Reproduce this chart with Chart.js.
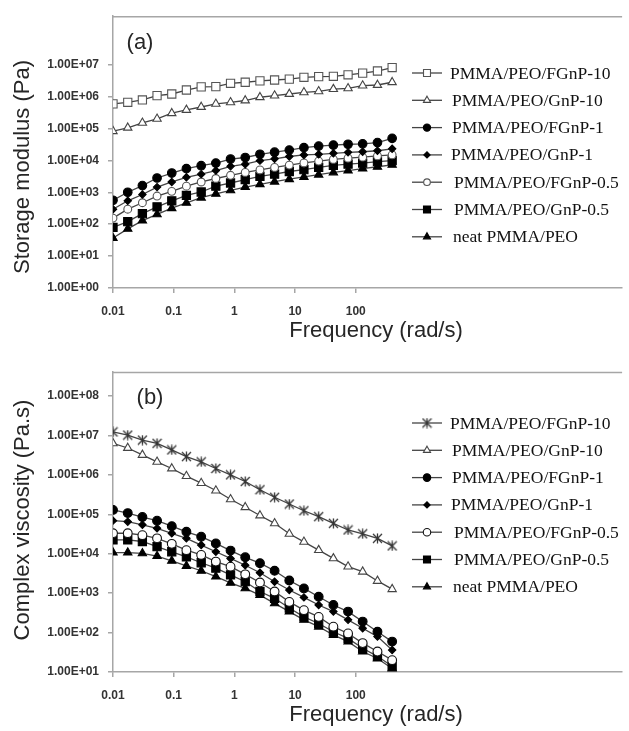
<!DOCTYPE html>
<html><head><meta charset="utf-8">
<script src="https://cdn.jsdelivr.net/npm/chart.js@4.4.1/dist/chart.umd.min.js"></script>
<style>
html,body{margin:0;padding:0;background:#fff;}
#wrap{width:629px;height:731px;position:relative;overflow:hidden;}
.box{position:absolute;left:0;width:629px;}
</style></head><body>
<div id="wrap">
<div class="box" style="top:0;height:350px"><canvas id="c1"></canvas></div>
<div class="box" style="top:350px;height:381px"><canvas id="c2"></canvas></div>
</div>
<script>
// ---------- data ----------
const freq = [0.01,0.0175,0.0305,0.0532,0.093,0.162,0.284,0.495,0.865,1.51,2.64,4.6,8.04,14,24.5,42.8,74.7,130,228,398];
const seriesNames = ['PMMA/PEO/FGnP-10','PMMA/PEO/GnP-10','PMMA/PEO/FGnP-1','PMMA/PEO/GnP-1','PMMA/PEO/FGnP-0.5','PMMA/PEO/GnP-0.5','neat PMMA/PEO'];
const xTickValues = [0.01,0.1,1,10,100];
const yTicksA = [1,10,100,1e3,1e4,1e5,1e6,1e7];
const yTicksB = [10,100,1e3,1e4,1e5,1e6,1e7,1e8];

// (a) Storage modulus (Pa)
const gFGnP10 = [5.9e5,6.6e5,7.8e5,1.07e6,1.2e6,1.6e6,2.0e6,2.05e6,2.6e6,2.8e6,3.1e6,3.3e6,3.5e6,4.0e6,4.2e6,4.3e6,4.8e6,5.4e6,6.3e6,8.1e6];
const gGnP10  = [8.2e4,1.05e5,1.5e5,2.0e5,3.0e5,3.8e5,4.7e5,5.9e5,6.6e5,7.5e5,9.5e5,1.07e6,1.2e6,1.35e6,1.45e6,1.7e6,1.8e6,2.2e6,2.3e6,2.8e6];
const gFGnP1  = [560,1000,1620,2800,4000,5500,6800,8200,1.1e4,1.23e4,1.55e4,1.8e4,2.1e4,2.5e4,2.8e4,3.0e4,3.2e4,3.3e4,3.6e4,4.9e4];
const gGnP1   = [295,540,850,1450,2100,2950,3700,4800,6500,7600,9800,1.12e4,1.32e4,1.48e4,1.55e4,1.66e4,1.78e4,1.86e4,2.0e4,2.3e4];
const gFGnP05 = [155,295,470,760,1070,1550,2100,2700,3400,4200,5000,6000,7100,8300,9500,1.07e4,1.17e4,1.26e4,1.38e4,1.48e4];
const gGnP05  = [79,120,214,347,537,794,1020,1550,1950,2500,3160,3720,4470,5130,6030,6920,7590,8130,9120,9770];
const gNeat   = [37,71,129,204,316,468,676,891,1150,1450,1780,2140,2570,3020,3550,4170,4790,5500,6310,7240];

// (b) Complex viscosity (Pa.s)
const etaFGnP10 = [1.23e7,1.02e7,7.6e6,6.3e6,4.3e6,2.9e6,2.14e6,1.45e6,1.0e6,6.8e5,4.2e5,2.7e5,1.82e5,1.23e5,8.7e4,5.9e4,4.0e4,3.2e4,2.45e4,1.58e4];
const etaGnP10  = [6.3e6,4.8e6,3.2e6,2.14e6,1.45e6,9.3e5,6.2e5,4.0e5,2.4e5,1.51e5,9.3e4,5.9e4,3.2e4,2.0e4,1.23e4,7600,4700,3500,2040,1260];
const etaFGnP1  = [1.29e5,1.07e5,8.5e4,6.9e4,5.0e4,3.6e4,2.7e4,1.82e4,1.2e4,8100,5750,3700,2090,1320,810,500,340,190,105,59];
const etaGnP1   = [6.9e4,6.5e4,5.4e4,4.4e4,3.3e4,2.45e4,1.66e4,1.12e4,7600,5100,3300,1950,1200,780,500,340,210,129,79,36];
const etaFGnP05 = [3.3e4,3.3e4,2.95e4,2.45e4,1.78e4,1.23e4,9300,6300,4700,3000,1860,1100,600,370,250,141,95,54,33,20];
const etaGnP05  = [2.24e4,2.24e4,2.04e4,1.51e4,1.12e4,8300,5900,4300,2900,1950,1100,740,420,250,170,105,71,40,25,14];
const etaNeat   = [1.07e4,1.07e4,1.02e4,8700,6600,4900,3700,2630,1820,1320,890,550,340,210,141,87,59,33,22,12.3];

// ---------- styles ----------
function makeStar(size){
  const c=document.createElement('canvas'); c.width=c.height=size;
  const g=c.getContext('2d'); g.strokeStyle='#333'; g.lineWidth=1.3;
  const m=size/2, r=size/2-1;
  g.beginPath();
  g.moveTo(m-r,m-r); g.lineTo(m+r,m+r);
  g.moveTo(m+r,m-r); g.lineTo(m-r,m+r);
  g.moveTo(m,m-r-0.5); g.lineTo(m,m+r+0.5);
  g.stroke();
  return c;
}
const starImg = makeStar(11);
const markersA = [
  {pointStyle:'rect', radius:5.8, fill:'#fff', stroke:'#555'},
  {pointStyle:'triangle', radius:4.8, fill:'#fff', stroke:'#444'},
  {pointStyle:'circle', radius:4.3, fill:'#000', stroke:'#000'},
  {pointStyle:'rectRot', radius:3.7, fill:'#000', stroke:'#000'},
  {pointStyle:'circle', radius:3.9, fill:'#fff', stroke:'#555'},
  {pointStyle:'rect', radius:5.8, fill:'#000', stroke:'#000'},
  {pointStyle:'triangle', radius:4.8, fill:'#000', stroke:'#000'}
];
const markersB = [
  {pointStyle:starImg, radius:5.5, fill:'#fff', stroke:'#333'},
  {pointStyle:'triangle', radius:4.8, fill:'#fff', stroke:'#444'},
  {pointStyle:'circle', radius:4.4, fill:'#000', stroke:'#000'},
  {pointStyle:'rectRot', radius:3.7, fill:'#000', stroke:'#000'},
  {pointStyle:'circle', radius:4.4, fill:'#fff', stroke:'#111'},
  {pointStyle:'rect', radius:5.8, fill:'#000', stroke:'#000'},
  {pointStyle:'triangle', radius:4.8, fill:'#000', stroke:'#000'}
];
const LINE = '#444';
const AXIS = '#a6a6a6';
const TICKFONT = {family:'"Liberation Sans", Arial, sans-serif', size:12, weight:'bold'};

function mkDatasets(arrs, markers){
  return arrs.map((vals,i)=>({
    label: seriesNames[i],
    data: freq.map((f,k)=>({x:f, y:vals[k]})),
    showLine:true,
    borderColor: LINE,
    borderWidth: 1.3,
    pointStyle: markers[i].pointStyle,
    pointRadius: markers[i].radius,
    pointBackgroundColor: markers[i].fill,
    pointBorderColor: markers[i].stroke,
    pointBorderWidth: 1.1,
    tension: 0
  }));
}
function fmtE(v){ const e=Math.round(Math.log10(v)); return '1.00E+'+(e<10?'0':'')+e; }

// plugin: frame, axis titles, panel label, legend
const decor = {
  id:'decor',
  afterDraw(chart, args, o){
    const ctx = chart.ctx, a = chart.chartArea;
    ctx.save();
    ctx.strokeStyle = AXIS; ctx.lineWidth = 1.5;
    ctx.beginPath(); ctx.moveTo(a.left, a.top+0.5); ctx.lineTo(a.right, a.top+0.5); ctx.stroke();
    ctx.fillStyle = '#262626';
    ctx.font = '22px "Liberation Sans", Arial, sans-serif';
    ctx.textAlign = 'center'; ctx.textBaseline = 'middle';
    ctx.fillText(o.xTitle, o.xTitleX, o.xTitleY);
    ctx.save(); ctx.translate(o.yTitleX, o.yTitleY); ctx.rotate(-Math.PI/2);
    ctx.fillText(o.yTitle, 0, 0); ctx.restore();
    ctx.fillText(o.panel, o.panelX, o.panelY);
    ctx.font = '17.5px "Liberation Serif", "Times New Roman", serif';
    ctx.textAlign = 'left';
    chart.data.datasets.forEach((ds,i)=>{
      const y = o.legY + i*o.legDy;
      ctx.strokeStyle = LINE; ctx.lineWidth = 1.3;
      ctx.beginPath(); ctx.moveTo(o.legX, y); ctx.lineTo(o.legX+30, y); ctx.stroke();
      ctx.fillStyle = ds.pointBackgroundColor; ctx.strokeStyle = ds.pointBorderColor; ctx.lineWidth = 1.1;
      const r = ds.pointRadius*0.85;
      Chart.helpers.drawPoint(ctx, {pointStyle: ds.pointStyle, radius: r, rotation:0, borderWidth:1.1}, o.legX+15, y);
      ctx.fillStyle = '#111';
      ctx.fillText(ds.label, o.legTextX + (o.legShift[i]||0), y+1);
    });
    ctx.restore();
  }
};

function makeChart(id, arrs, markers, yMin, yMax, yTicks, padTop, xH, plug){
  return new Chart(document.getElementById(id), {
    type:'scatter',
    data:{datasets: mkDatasets(arrs, markers)},
    options:{
      responsive:true, maintainAspectRatio:false, animation:false, devicePixelRatio:1,
      layout:{padding:{top:padTop, left:0, right:0, bottom:0}},
      plugins:{legend:{display:false}, tooltip:{enabled:false}, decor: plug},
      scales:{
        x:{type:'logarithmic', min:0.01, max:2.45e6,
           afterBuildTicks: s=>{ s.ticks = xTickValues.map(v=>({value:v})); },
           afterFit: s=>{ s.height = xH; },
           ticks:{callback:v=>String(v), autoSkip:false, maxRotation:0, padding:11,
                  color:'#333', font:TICKFONT},
           grid:{drawOnChartArea:false, tickLength:5, color:AXIS, tickColor:AXIS, lineWidth:1.5},
           border:{color:AXIS, width:1.5}},
        y:{type:'logarithmic', min:yMin, max:yMax,
           afterBuildTicks: s=>{ s.ticks = yTicks.map(v=>({value:v})); },
           afterFit: s=>{ s.width = 113; },
           ticks:{callback:v=>fmtE(v), autoSkip:false, padding:9,
                  color:'#333', font:TICKFONT},
           grid:{drawOnChartArea:false, tickLength:5, color:AXIS, tickColor:AXIS, lineWidth:1.5},
           border:{color:AXIS, width:1.5}}
      }
    },
    plugins:[decor]
  });
}

makeChart('c1', [gFGnP10,gGnP10,gFGnP1,gGnP1,gFGnP05,gGnP05,gNeat], markersA, 1, 3.29e8, yTicksA, 13, 62, {
  xTitle:'Frequency (rad/s)', xTitleX:376, xTitleY:331,
  yTitle:'Storage modulus (Pa)', yTitleX:23, yTitleY:167,
  panel:'(a)', panelX:140, panelY:43,
  legX:412, legTextX:450, legY:73, legDy:27.3, legShift:[0,2,2,1,4,4,3]
});
makeChart('c2', [etaFGnP10,etaGnP10,etaFGnP1,etaGnP1,etaFGnP05,etaGnP05,etaNeat], markersB, 10, 4.06e8, yTicksB, 22, 59, {
  xTitle:'Frequency (rad/s)', xTitleX:376, xTitleY:365,
  yTitle:'Complex viscosity (Pa.s)', yTitleX:23, yTitleY:170,
  panel:'(b)', panelX:150, panelY:48,
  legX:412, legTextX:450, legY:73, legDy:27.3, legShift:[0,2,2,1,4,4,3]
});
</script>
</body></html>
